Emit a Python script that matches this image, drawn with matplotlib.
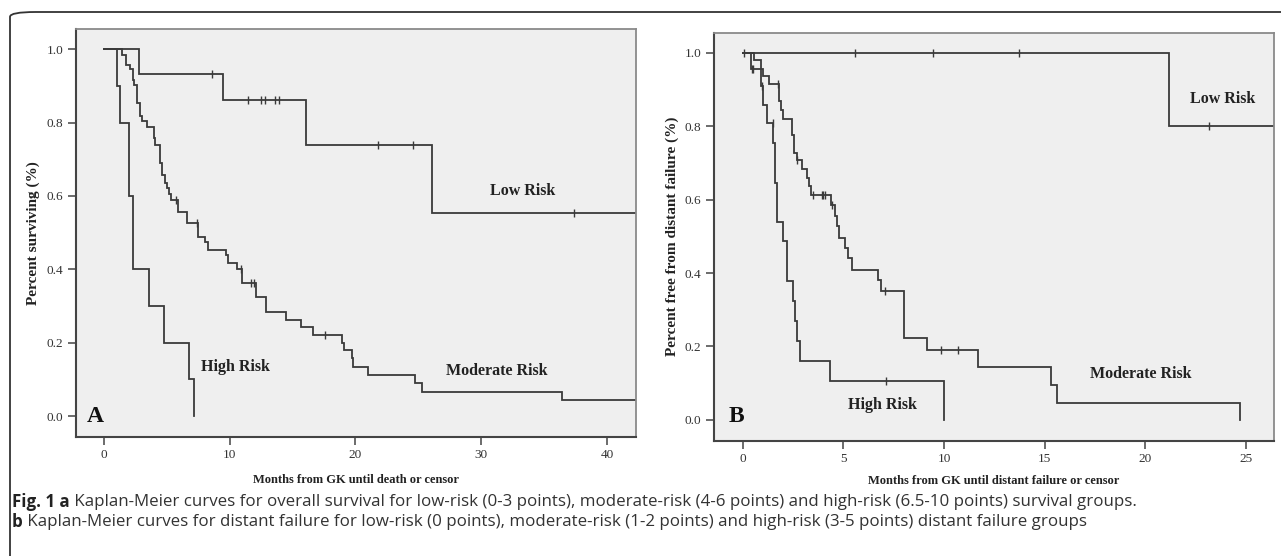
import numpy as np
import matplotlib
matplotlib.use("Agg")
import matplotlib.pyplot as plt
from matplotlib.patches import FancyBboxPatch

# ---------------- data: panel A (overall survival) ----------------
a_low_t = [0, 2.8, 9.5, 16.1, 26.1, 42.3]
a_low_s = [1.0, 0.933, 0.862, 0.738, 0.553, 0.553]
a_low_cens = [8.6, 11.5, 12.5, 12.85, 13.65, 13.9, 21.8, 24.6, 37.4]

a_mod_t = [0, 1.48, 1.75, 2.12, 2.33, 2.44, 2.65, 2.91, 3.02, 3.44, 3.97, 4.08,
           4.50, 4.66, 4.88, 5.03, 5.19, 5.38, 5.94, 6.62, 7.52, 8.05, 8.32,
           9.72, 9.86, 10.63, 11.02, 12.1, 12.9, 14.5, 15.7, 16.6, 18.9, 19.1,
           19.7, 19.8, 21.0, 24.7, 25.3, 36.4, 42.3]
a_mod_s = [1.0, 0.985, 0.957, 0.945, 0.916, 0.902, 0.852, 0.818, 0.805, 0.789,
           0.757, 0.738, 0.689, 0.657, 0.634, 0.621, 0.605, 0.589, 0.556, 0.525,
           0.489, 0.475, 0.452, 0.439, 0.418, 0.400, 0.364, 0.325, 0.285, 0.262,
           0.242, 0.221, 0.200, 0.180, 0.157, 0.135, 0.112, 0.089, 0.066, 0.044,
           0.044]
a_mod_cens = [5.72, 7.45, 10.92, 11.7, 11.95, 17.6]

a_high_t = [0, 1.09, 1.32, 2.01, 2.35, 3.58, 4.77, 6.78, 7.18]
a_high_s = [1.0, 0.9, 0.8, 0.6, 0.4, 0.3, 0.2, 0.1, 0.0]
a_high_cens = []

# ---------------- data: panel B (distant failure) ----------------
b_low_t = [0, 21.19, 26.4]
b_low_s = [1.0, 0.8, 0.8]
b_low_cens = [0.05, 5.58, 9.47, 13.75, 23.18]

b_mod_t = [0, 0.56, 0.91, 0.99, 1.31, 1.81, 1.89, 1.99, 2.44, 2.57, 2.68, 2.93,
           3.18, 3.31, 3.38, 4.39, 4.59, 4.67, 4.80, 5.09, 5.25, 5.42, 6.71,
           6.86, 8.02, 9.18, 11.71, 15.31, 15.61, 24.72]
b_mod_s = [1.0, 0.98, 0.956, 0.936, 0.914, 0.868, 0.844, 0.82, 0.775, 0.727,
           0.707, 0.684, 0.66, 0.636, 0.614, 0.585, 0.555, 0.527, 0.495, 0.468,
           0.441, 0.409, 0.38, 0.35, 0.223, 0.191, 0.144, 0.095, 0.047, 0.0]
b_mod_cens = [1.77, 2.70, 3.51, 3.93, 4.01, 4.09, 4.42, 7.08, 9.86, 10.72]

b_high_t = [0, 0.40, 0.91, 0.99, 1.19, 1.52, 1.61, 1.72, 1.99, 2.19, 2.49,
            2.61, 2.69, 2.82, 4.31, 10.0]
b_high_s = [1.0, 0.956, 0.909, 0.859, 0.809, 0.755, 0.645, 0.538, 0.486,
            0.377, 0.323, 0.268, 0.216, 0.161, 0.107, 0.0]
b_high_cens = [0.45, 0.53, 0.95, 1.49, 7.12]

a_xticks = [0, 10, 20, 30, 40]
b_xticks = [0, 5, 10, 15, 20, 25]
yticks = [0.0, 0.2, 0.4, 0.6, 0.8, 1.0]

caption1_bold = "Fig. 1"
caption1 = (" Kaplan-Meier curves for overall survival for low-risk (0-3 points), "
            "moderate-risk (4-6 points) and high-risk (6.5-10 points) survival groups.")
caption2 = (" Kaplan-Meier curves for distant failure for low-risk (0 points), "
            "moderate-risk (1-2 points) and high-risk (3-5 points) distant failure groups")

# ---------------- drawing ----------------
LINE = "#3a3a3a"
SERIF = "Liberation Serif"

fig = plt.figure(figsize=(12.81, 5.56), dpi=100)


def surv_at(times, surv, ct):
    idx = np.searchsorted(np.asarray(times), np.asarray(ct), side="right") - 1
    return np.asarray(surv)[idx]


def km(ax, t, s, cens):
    ax.step(t, s, where="post", color=LINE, lw=1.3, solid_joinstyle="miter")
    if len(cens):
        ax.plot(cens, surv_at(t, s, cens), ls="none", marker="|",
                ms=6, mew=1.0, color=LINE)


def style(ax, xlim, xticks):
    ax.set_facecolor("#efefef")
    ax.set_xlim(*xlim)
    ax.set_ylim(-0.057, 1.055)
    ax.set_xticks(xticks)
    ax.set_yticks(yticks)
    ax.set_yticklabels([f"{v:.1f}" for v in yticks])
    for side in ("left", "bottom"):
        ax.spines[side].set_color("#444444")
        ax.spines[side].set_linewidth(1.5)
    for side in ("top", "right"):
        ax.spines[side].set_color("#8a8a8a")
        ax.spines[side].set_linewidth(1.3)
    ax.tick_params(direction="out", length=6, width=1.1, color="#444444",
                   labelsize=9.5, labelcolor="#333333", pad=3)
    for lab in ax.get_xticklabels() + ax.get_yticklabels():
        lab.set_fontfamily(SERIF)


# Panel A
axA = fig.add_axes([76 / 1281, 1 - 437 / 556, 560 / 1281, 408 / 556])
km(axA, a_low_t, a_low_s, a_low_cens)
km(axA, a_mod_t, a_mod_s, a_mod_cens)
km(axA, a_high_t, a_high_s, a_high_cens)
style(axA, (-2.2, 42.3), a_xticks)
lab_kw = dict(fontfamily=SERIF, fontweight="bold", fontsize=11.5,
              color="#222222", ha="center", va="center")
axA.text(33.3, 0.614, "Low Risk", **lab_kw)
axA.text(31.2, 0.124, "Moderate Risk", **lab_kw)
axA.text(10.5, 0.135, "High Risk", **lab_kw)
axA.text(-0.66, 0.0, "A", fontfamily=SERIF, fontweight="bold", fontsize=17,
         color="#111111", ha="center", va="center")
axA.set_ylabel("Percent surviving (%)", fontfamily=SERIF, fontweight="bold",
               fontsize=11, color="#222222", labelpad=5)
axA.set_xlabel("Months from GK until death or censor", fontfamily=SERIF,
               fontweight="bold", fontsize=9, color="#222222", labelpad=9)

# Panel B
axB = fig.add_axes([714 / 1281, 1 - 440.7 / 556, 560 / 1281, 408 / 556])
km(axB, b_low_t, b_low_s, b_low_cens)
km(axB, b_mod_t, b_mod_s, b_mod_cens)
km(axB, b_high_t, b_high_s, b_high_cens)
style(axB, (-1.43, 26.4), b_xticks)
axB.text(23.86, 0.875, "Low Risk", **lab_kw)
axB.text(19.78, 0.125, "Moderate Risk", **lab_kw)
axB.text(6.96, 0.041, "High Risk", **lab_kw)
axB.text(-0.3, 0.01, "B", fontfamily=SERIF, fontweight="bold", fontsize=17,
         color="#111111", ha="center", va="center")
axB.set_ylabel("Percent free from distant failure (%)", fontfamily=SERIF,
               fontweight="bold", fontsize=11, color="#222222", labelpad=4)
axB.set_xlabel("Months from GK until distant failure or censor",
               fontfamily=SERIF, fontweight="bold", fontsize=9,
               color="#222222", labelpad=7)

# rounded frame around the figure
frame = FancyBboxPatch((10 / 1281, -0.2), 1.2, 1 - 12 / 556 + 0.2,
                       boxstyle="round,pad=0,rounding_size=0.02",
                       transform=fig.transFigure, fill=False,
                       edgecolor="#333333", lw=1.3, mutation_aspect=556 / 1281)
fig.add_artist(frame)

# caption
CAP = "Open Sans"
CAPSZ = 12.2
t1 = fig.text(12 / 1281, 1 - 502 / 556, caption1_bold, fontfamily=CAP,
              fontweight="bold", fontsize=CAPSZ, color="#222222", va="center")
fig.canvas.draw()
r = fig.canvas.get_renderer()
bb = t1.get_window_extent(r)
x1 = bb.x1 / fig.bbox.width
ta = fig.text(x1, 1 - 502 / 556, " a", fontfamily=CAP, fontweight="bold",
              fontsize=CAPSZ, color="#222222", va="center")
bb = ta.get_window_extent(r)
fig.text(bb.x1 / fig.bbox.width, 1 - 502 / 556, caption1, fontfamily=CAP,
         fontsize=CAPSZ, color="#333333", va="center")
tb = fig.text(12 / 1281, 1 - 522 / 556, "b", fontfamily=CAP, fontweight="bold",
              fontsize=CAPSZ, color="#222222", va="center")
bb = tb.get_window_extent(r)
fig.text(bb.x1 / fig.bbox.width, 1 - 522 / 556, caption2, fontfamily=CAP,
         fontsize=CAPSZ, color="#333333", va="center")

fig.savefig("out.png", dpi=100)
